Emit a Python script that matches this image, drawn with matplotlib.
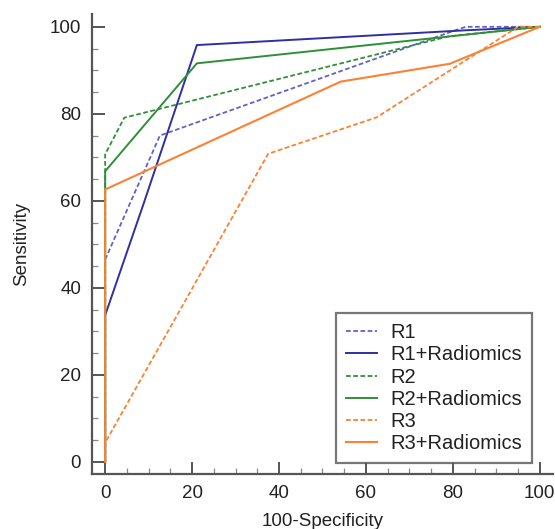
import matplotlib
matplotlib.use("Agg")
import matplotlib.pyplot as plt
from matplotlib.ticker import MultipleLocator

plt.rcParams["font.family"] = ["Liberation Sans", "DejaVu Sans"]

# ROC points (100-Specificity, Sensitivity)
r1_x = [0, 0, 12.6, 80, 83, 100]
r1_y = [0, 46.5, 75, 99, 100, 100]
r1rad_x = [0, 0, 8.8, 21.1, 83, 100]
r1rad_y = [0, 33.7, 59.2, 95.8, 99.2, 100]
r2_x = [0, 0, 4.4, 79, 100]
r2_y = [0, 70.7, 79.1, 97.8, 100]
r2rad_x = [0, 0, 21.1, 100]
r2rad_y = [0, 66.8, 91.6, 100]
r3_x = [0, 0, 37.5, 62.5, 95, 100]
r3_y = [0, 4.4, 70.8, 79.2, 100, 100]
r3rad_x = [0, 0, 54.2, 79.3, 100]
r3rad_y = [0, 62.6, 87.4, 91.5, 100]

blue_d = "#6262c4"
blue = "#2f2fa3"
green = "#2f8f36"
orange = "#fb8233"
dash = (0, (2.6, 1.4))

fig = plt.figure(figsize=(5.55, 5.29), dpi=100)
ax = fig.add_axes([0.166, 0.104, 0.830, 0.870])

ax.plot(r1_x, r1_y, color=blue_d, lw=1.3, ls=dash, label="R1")
ax.plot(r1rad_x, r1rad_y, color=blue, lw=1.4, label="R1+Radiomics")
ax.plot(r2_x, r2_y, color=green, lw=1.3, ls=dash, label="R2")
ax.plot(r2rad_x, r2rad_y, color=green, lw=1.4, label="R2+Radiomics")
ax.plot(r3_x, r3_y, color=orange, lw=1.3, ls=dash, label="R3")
ax.plot(r3rad_x, r3rad_y, color=orange, lw=1.5, label="R3+Radiomics")

ax.set_xlim(-3, 103)
ax.set_ylim(-2.8, 103)
ax.xaxis.set_major_locator(MultipleLocator(20))
ax.xaxis.set_minor_locator(MultipleLocator(5))
ax.yaxis.set_major_locator(MultipleLocator(20))
ax.yaxis.set_minor_locator(MultipleLocator(5))

for s in ["top", "right"]:
    ax.spines[s].set_visible(False)
for s in ["left", "bottom"]:
    ax.spines[s].set_color("#555555")
    ax.spines[s].set_linewidth(1.6)

ax.tick_params(which="major", direction="in", length=9, width=1.4,
               color="#555555", labelsize=13.5, labelcolor="#222222", pad=8)
ax.tick_params(which="minor", direction="in", length=4, width=0.9,
               color="#888888")

ax.set_xlabel("100-Specificity", fontsize=13.5, color="#222222", labelpad=8)
ax.set_ylabel("Sensitivity", fontsize=13.5, color="#222222", labelpad=14)

leg = ax.legend(loc="lower right", bbox_to_anchor=(0.954, 0.024),
                fontsize=14.5, frameon=True, fancybox=False,
                handlelength=1.55, handletextpad=0.65, labelspacing=0.16,
                borderpad=0.48, borderaxespad=0)
leg.get_frame().set_edgecolor("#555555")
leg.get_frame().set_linewidth(1.6)
for t in leg.get_texts():
    t.set_color("#222222")

fig.savefig("out.png", dpi=100)
